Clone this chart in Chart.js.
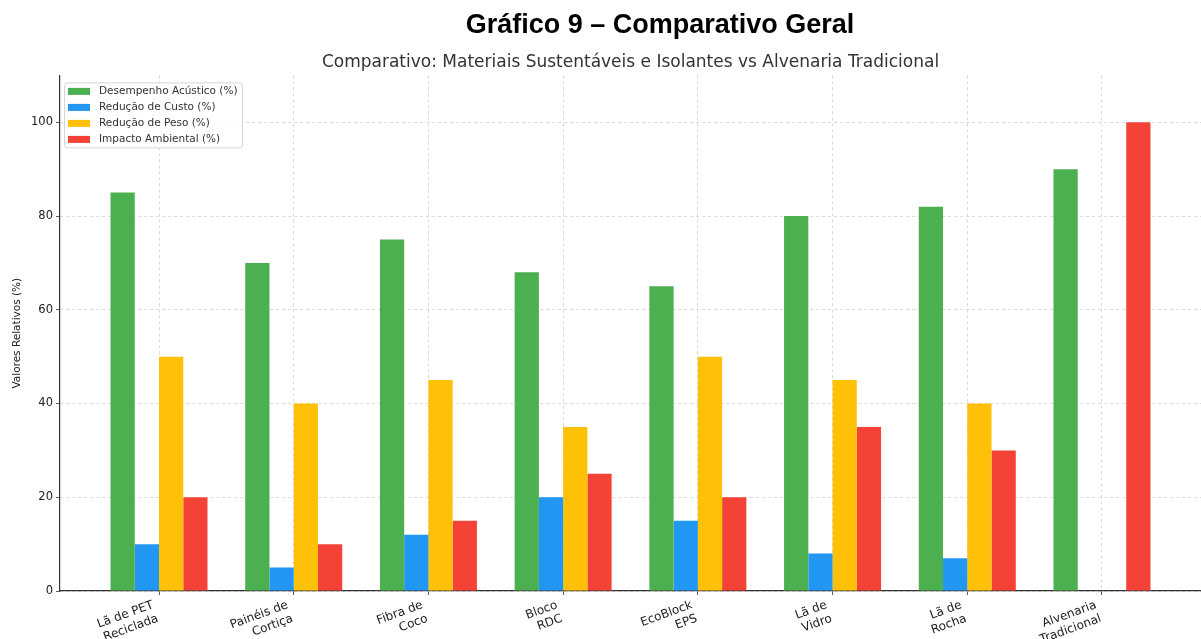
<!DOCTYPE html>
<html>
<head>
<meta charset="utf-8">
<script src="https://cdn.jsdelivr.net/npm/chart.js@4"></script>
<style>
  body { margin: 0; background: #fff; }
  #wrap { position: relative; width: 1201px; height: 639px; overflow: hidden; }
  #titulo {
    position: absolute; top: 9px; left: 660px; transform: translateX(-50%);
    font: bold 27px "Liberation Sans", Arial, sans-serif; color: #000; white-space: nowrap;
  }
  canvas { position: absolute; left: 0; top: 0; }
</style>
</head>
<body>
<div id="wrap">
  <canvas id="grafico" width="1201" height="639"></canvas>
  <div id="titulo">Gráfico 9 – Comparativo Geral</div>
</div>
<script>
// Data
const categorias = [
  ['Lã de PET', 'Reciclada'],
  ['Painéis de', 'Cortiça'],
  ['Fibra de', 'Coco'],
  ['Bloco', 'RDC'],
  ['EcoBlock', 'EPS'],
  ['Lã de', 'Vidro'],
  ['Lã de', 'Rocha'],
  ['Alvenaria', 'Tradicional']
];
const desempenhoAcustico = [85, 70, 75, 68, 65, 80, 82, 90];
const reducaoCusto = [10, 5, 12, 20, 15, 8, 7, 0];
const reducaoPeso = [50, 40, 45, 35, 50, 45, 40, 0];
const impactoAmbiental = [20, 10, 15, 25, 20, 35, 30, 100];
const yTicks = [0, 20, 40, 60, 80, 100];

const fonte = 'DejaVu Sans';
const toPoints = arr => arr.map((v, i) => ({ x: i, y: v }));

// Legend drawn inside the plot, top-left (like matplotlib)
const legendaInterna = {
  id: 'legendaInterna',
  afterDatasetsDraw(chart) {
    const { ctx, chartArea } = chart;
    const x0 = chartArea.left + 4, y0 = chartArea.top + 7;
    const w = 178, h = 65;
    ctx.save();
    ctx.fillStyle = 'rgba(255,255,255,0.85)';
    ctx.strokeStyle = '#d6d6d6';
    ctx.lineWidth = 1;
    ctx.beginPath();
    ctx.roundRect(x0 + 0.5, y0 + 0.5, w, h, 3);
    ctx.fill();
    ctx.stroke();
    ctx.font = '10.5px "' + fonte + '"';
    ctx.textBaseline = 'middle';
    chart.data.datasets.forEach((ds, i) => {
      const y = y0 + 9 + i * 16;
      ctx.fillStyle = ds.backgroundColor;
      ctx.fillRect(x0 + 4, y - 3.5, 22, 7);
      ctx.fillStyle = '#333';
      ctx.fillText(ds.label, x0 + 35, y);
    });
    ctx.restore();
  }
};

const gridOpts = {
  color: '#d0d0d0',
  lineWidth: 0.8,
  tickColor: '#333',
  tickLength: 4,
  tickBorderDash: []
};

const ctx = document.getElementById('grafico').getContext('2d');
new Chart(ctx, {
  type: 'bar',
  data: {
    datasets: [
      { label: 'Desempenho Acústico (%)', data: toPoints(desempenhoAcustico), backgroundColor: '#4CAF50' },
      { label: 'Redução de Custo (%)', data: toPoints(reducaoCusto), backgroundColor: '#2196F3' },
      { label: 'Redução de Peso (%)', data: toPoints(reducaoPeso), backgroundColor: '#FFC107' },
      { label: 'Impacto Ambiental (%)', data: toPoints(impactoAmbiental), backgroundColor: '#F44336' }
    ]
  },
  options: {
    responsive: false,
    animation: false,
    devicePixelRatio: 1,
    categoryPercentage: 0.72,
    barPercentage: 1,
    layout: { padding: { left: 0, right: -11, top: 0, bottom: 0 } },
    plugins: {
      legend: { display: false },
      tooltip: { enabled: false },
      title: {
        display: true,
        fullSize: false,
        text: 'Comparativo: Materiais Sustentáveis e Isolantes vs Alvenaria Tradicional',
        color: '#333',
        font: { family: fonte, size: 17, weight: 'normal' },
        padding: { top: 52, bottom: 3 }
      }
    },
    scales: {
      x: {
        type: 'linear',
        min: -0.735,
        max: categorias.length - 1 + 0.735,
        offset: false,
        afterBuildTicks: s => { s.ticks = categorias.map((_, i) => ({ value: i })); },
        afterFit: s => { s.height = 48; },
        border: { color: '#333', width: 1.2, dash: [3, 3] },
        grid: { ...gridOpts, offset: false },
        ticks: {
          autoSkip: false,
          minRotation: 20,
          maxRotation: 20,
          padding: 3,
          labelOffset: -6,
          color: '#222',
          font: { family: fonte, size: 12 },
          callback: v => categorias[v]
        }
      },
      y: {
        min: 0,
        max: 110,
        afterBuildTicks: s => { s.ticks = yTicks.map(v => ({ value: v })); },
        afterFit: s => { s.width = 60; },
        border: { color: '#333', width: 1.2, dash: [3, 3] },
        grid: gridOpts,
        ticks: {
          padding: 3,
          color: '#222',
          font: { family: fonte, size: 11.5 }
        },
        title: {
          display: true,
          text: 'Valores Relativos (%)',
          color: '#222',
          font: { family: fonte, size: 10.5 },
          padding: { top: 11, bottom: 0 }
        }
      }
    }
  },
  plugins: [legendaInterna]
});
</script>
</body>
</html>
